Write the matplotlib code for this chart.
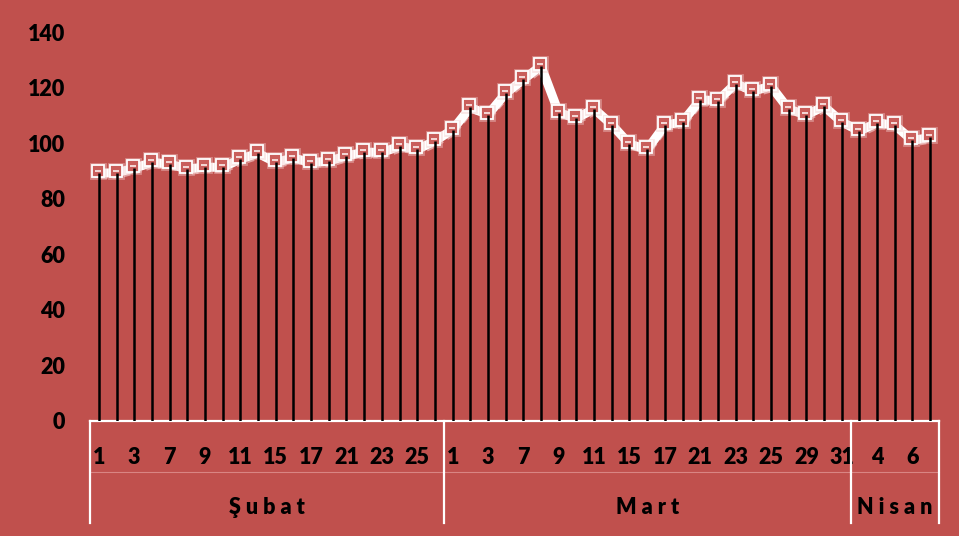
import matplotlib
matplotlib.use("Agg")
import matplotlib.pyplot as plt
import matplotlib.transforms as mtransforms

# ---- data ----
months = ["Şubat", "Mart", "Nisan"]
month_days = [
    [1, 2, 3, 4, 7, 8, 9, 10, 11, 14, 15, 16, 17, 18, 21, 22, 23, 24, 25, 28],
    [1, 2, 3, 4, 7, 8, 9, 10, 11, 14, 15, 16, 17, 18, 21, 22, 23, 24, 25, 28, 29, 30, 31],
    [1, 4, 5, 6, 7],
]
values = [89.2, 89.4, 91.0, 93.1, 92.5, 90.7, 91.4, 91.3, 94.3, 96.4,
          93.1, 94.7, 93.0, 93.6, 95.4, 96.8, 96.7, 98.9, 97.8, 100.8,
          104.9, 112.9, 110.3, 118.0, 123.0, 127.9, 111.0, 109.0, 112.4, 106.7,
          99.7, 97.8, 106.5, 107.7, 115.6, 115.4, 121.5, 118.8, 120.6, 112.3,
          110.2, 113.3, 107.7, 104.4, 107.4, 106.5, 101.0, 102.1]
y_ticks = [0, 20, 40, 60, 80, 100, 120, 140]

# ---- style ----
BG = "#C0504D"
plt.rcParams["font.family"] = ["Lato", "DejaVu Sans"]
plt.rcParams["font.weight"] = "heavy"
FS = 15.5

fig = plt.figure(figsize=(9.59, 5.36), dpi=100, facecolor=BG)
ax = fig.add_axes([90 / 959, 1 - 420.7 / 536, 849 / 959, (420.7 - 32.3) / 536])
ax.set_facecolor(BG)

n = len(values)
x = list(range(n))

# shadow-like faint dashed line
shadow = ax.transData + mtransforms.ScaledTranslation(2 / 100, -5 / 100, fig.dpi_scale_trans)
ax.plot(x, values, color="#F2C4C3", lw=1.2, ls=(0, (4, 3)), alpha=0.7,
        transform=shadow, zorder=1)
# main white line
ax.plot(x, values, color="white", lw=6.5, solid_joinstyle="miter", zorder=2)
# markers (slightly raised, with soft glow)
mk = ax.transData + mtransforms.ScaledTranslation(-1 / 100, 2 / 100, fig.dpi_scale_trans)
ax.plot(x, values, ls="none", marker="s", markersize=10, markerfacecolor="none",
        markeredgecolor="#F3CBCA", markeredgewidth=2.0, alpha=0.45, transform=mk, zorder=3)
ax.plot(x, values, ls="none", marker="s", markersize=8, markerfacecolor="#C95E5B",
        markeredgecolor="white", markeredgewidth=1.3, transform=mk, zorder=3)
ax.plot(x, values, ls="none", marker="_", markersize=5, markeredgecolor="#FCEDEC",
        markeredgewidth=1.2, transform=mk, zorder=3)
# drop lines
ax.vlines(x, 0, values, color="black", lw=1.8, zorder=4)

ax.set_xlim(-0.5, n - 0.5)
ax.set_ylim(0, 140)
ax.set_yticks(y_ticks)
ax.set_yticklabels([str(v) for v in y_ticks])
ax.tick_params(axis="y", length=0, pad=18, labelsize=FS, labelcolor="black")
ax.set_xticks([])
for s in ["left", "right", "top"]:
    ax.spines[s].set_visible(False)
ax.spines["bottom"].set_color("white")
ax.spines["bottom"].set_linewidth(1.6)

# category labels (two-level axis)
bt = mtransforms.blended_transform_factory(ax.transData, fig.transFigure)
y_day = 1 - 457 / 536
y_month = 1 - 507 / 536
y_axis = 1 - 420.7 / 536
y_bottom = 1 - 523 / 536

k = 0
bounds = [-0.5]
for m, days in zip(months, month_days):
    start = k
    for d in days:
        if k % 2 == 0:
            ax.text(k, y_day, str(d), transform=bt, ha="center", va="center",
                    fontsize=FS, color="black", clip_on=False)
        k += 1
    bounds.append(k - 0.5)
    ax.text((start - 0.5 + k - 0.5) / 2, y_month, " ".join(m), transform=bt,
            ha="center", va="center", fontsize=FS, color="black", clip_on=False)

for b in bounds:
    ax.plot([b, b], [y_axis, y_bottom], color="white", lw=1.6, transform=bt,
            clip_on=False, zorder=5)
# faint divider between the two label rows
ax.plot([bounds[0], bounds[-1]], [1 - 471.7 / 536] * 2, color="#D98583", lw=0.8,
        transform=bt, clip_on=False, zorder=0)

fig.savefig("out.png", dpi=100, facecolor=BG)
